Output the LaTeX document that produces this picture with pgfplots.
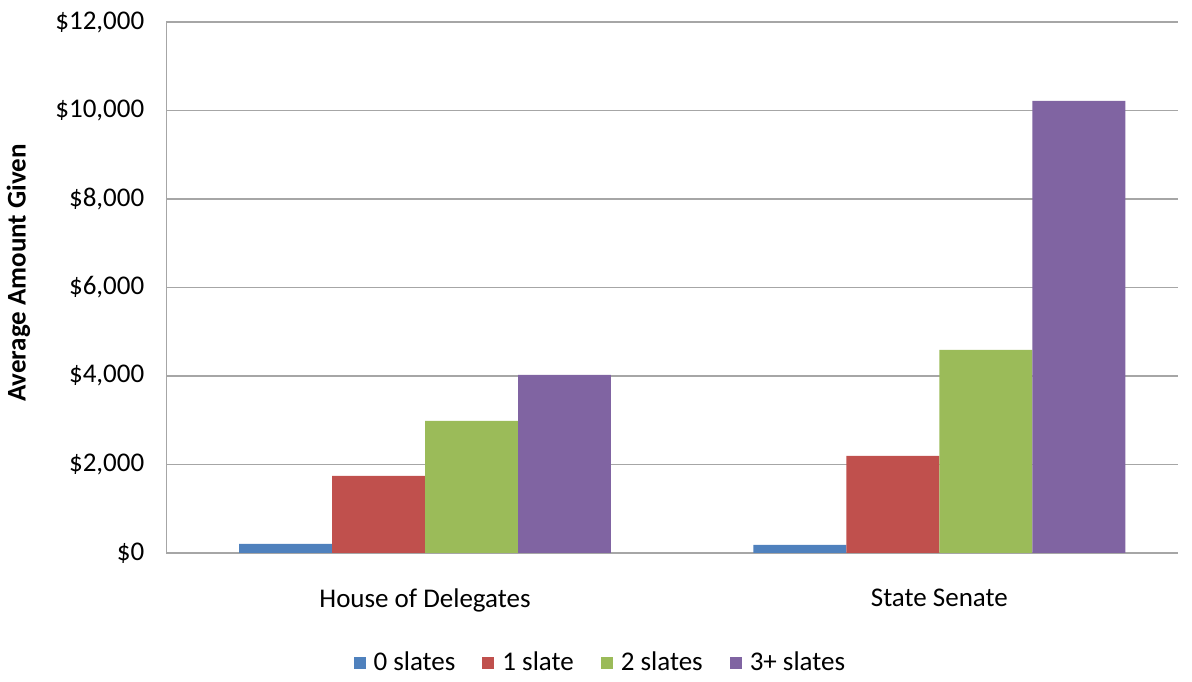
\documentclass[border=0pt]{standalone}
\usepackage{fontspec}
\setmainfont{Carlito}
\usepackage{pgfplots}
\pgfplotsset{compat=1.18}

\definecolor{cBlue}{HTML}{4F81BD}
\definecolor{cRed}{HTML}{C0504D}
\definecolor{cGreen}{HTML}{9BBB59}
\definecolor{cPurple}{HTML}{8064A2}
\definecolor{gridgray}{HTML}{A6A6A6}

\begin{document}
\begin{tikzpicture}[font=\fontsize{13.5}{16}\selectfont]
\begin{axis}[
    ybar=0pt,
    bar width=46.5pt,
    scale only axis,
    width=506pt, height=265.5pt,
    xmin=-0.503, xmax=1.464,
    ymin=0, ymax=12000,
    scaled y ticks=false,
    xtick={0,1},
    xticklabels={House of Delegates, State Senate},
    ytick={0,2000,4000,6000,8000,10000,12000},
    yticklabels={\$0,{\$2,000},{\$4,000},{\$6,000},{\$8,000},{\$10,000},{\$12,000}},
    major tick length=0pt,
    axis x line=bottom, axis y line=left,
    axis line style={-, draw=gridgray, line width=0.75pt},
    ymajorgrids,
    grid style={draw=gridgray, line width=0.75pt},
    yticklabel style={xshift=-7.5pt},
    xticklabel style={yshift=-14.5pt},
    ylabel={\bfseries Average Amount Given},
    ylabel style={at={(rel axis cs:-0.1462,0.527)}, anchor=center},
    every axis plot post/.append style={
        draw=none,
        legend image code/.code={\path[##1] (0pt,-3pt) rectangle (6pt,3pt);}},
    legend style={at={(0.43,-0.207)}, anchor=center, draw=none,
        legend columns=4,
        /tikz/every odd column/.append style={column sep=2pt},
        /tikz/every even column/.append style={column sep=11.5pt}},
]
\addplot[fill=cBlue] coordinates {(0,203) (1,180)};
\addplot[fill=cRed] coordinates {(0,1740) (1,2192)};
\addplot[fill=cGreen] coordinates {(0,2983) (1,4588)};
\addplot[fill=cPurple] coordinates {(0,4023) (1,10215)};
\legend{0 slates, 1 slate, 2 slates, 3+ slates}
\end{axis}
\path ([shift={(-83pt,-61pt)}]current axis.south west) rectangle ([shift={(513pt,276.5pt)}]current axis.south west);
\end{tikzpicture}
\end{document}
